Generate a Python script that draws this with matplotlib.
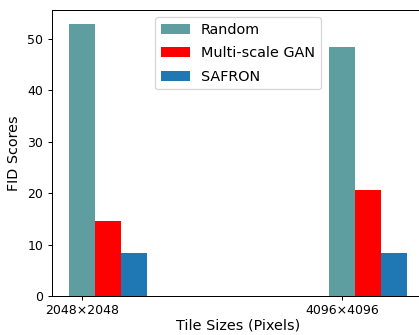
import numpy as np
import matplotlib.pyplot as plt

# data
tile_sizes = ['2048×2048', '4096×4096']
random_fid = [52.9, 48.4]
multiscale_fid = [14.5, 20.6]
safron_fid = [8.45, 8.45]

x = np.arange(len(tile_sizes))
width = 0.1

fig = plt.figure(figsize=(419 / 90, 335 / 90), dpi=90)
ax = fig.add_axes([0.124, 0.116, 0.888, 0.854])

ax.bar(x, random_fid, width, color='cadetblue', label='Random')
ax.bar(x + width, multiscale_fid, width, color='red', label='Multi-scale GAN')
ax.bar(x + 2 * width, safron_fid, width, color='tab:blue', label='SAFRON')

ax.set_xticks(x)
ax.set_xticklabels(tile_sizes)
ax.tick_params(axis='x', pad=2.5)
ax.set_xlabel('Tile Sizes (Pixels)', fontsize=11.5, labelpad=1.5)
ax.set_ylabel('FID Scores', fontsize=11.5, labelpad=5)
ax.legend(loc='upper center', fontsize=11.5, labelspacing=0.65)

fig.savefig('out.png', dpi=90)
